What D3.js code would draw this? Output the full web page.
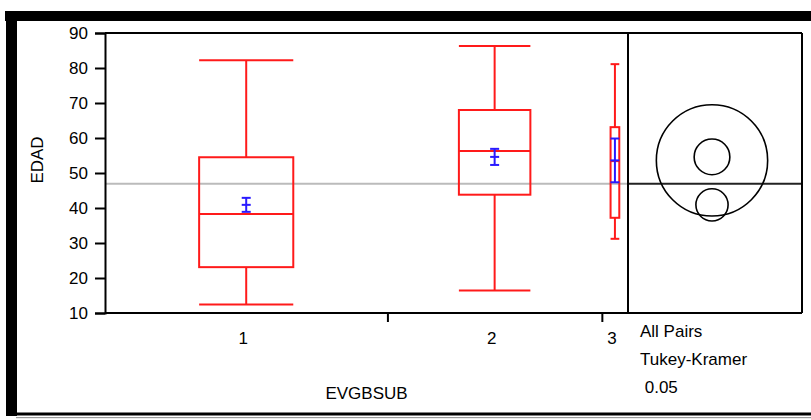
<!DOCTYPE html>
<html>
<head>
<meta charset="utf-8">
<script src="https://cdn.jsdelivr.net/npm/d3@7/dist/d3.min.js"></script>
<style>
  html, body { margin: 0; padding: 0; background: #fff; }
  svg { display: block; }
  text { font-family: "Liberation Sans", Arial, sans-serif; fill: #000; }
</style>
</head>
<body>
<svg id="chart" width="811" height="420"></svg>
<script>
// Groups of EVGBSUB with their sizes (box widths follow the counts)
const groups = ["1", "2", "3"];
const counts = [54, 41, 5];

// Five-number summaries of EDAD per group
const whiskerLow  = [12.4, 16.4, 31.2];
const quartile1   = [23.1, 43.8, 37.2];
const medians     = [38.3, 56.3, 53.4];
const quartile3   = [54.5, 68.0, 63.1];
const whiskerHigh = [82.2, 86.3, 81.1];

// Group means and standard errors
const means   = [40.9, 54.6, 53.6];
const stdErrs = [2.0, 2.3, 6.25];

// Tukey-Kramer comparison circle radii (EDAD units)
const circleRadii = [4.6, 5.1, 15.9];

const grandMean = 46.9;
const yTicks = [10, 20, 30, 40, 50, 60, 70, 80, 90];
const testLines = ["All Pairs", "Tukey-Kramer", " 0.05"];

const svg = d3.select("#chart");

const plot = { left: 105, right: 628, top: 33, bottom: 313 };
const panel = { left: 628, right: 802 };

const y = d3.scaleLinear().domain([10, 90]).range([plot.bottom, plot.top]);

const cum = [0];
counts.forEach((c, i) => cum.push(cum[i] + c));
const x = d3.scaleLinear().domain([0, cum[cum.length - 1]]).range([plot.left, plot.right]);

// Outer frame bands
svg.append("rect").attr("x", 5).attr("y", 11).attr("width", 806).attr("height", 10).attr("fill", "#000");
svg.append("rect").attr("x", 6).attr("y", 11).attr("width", 11).attr("height", 405).attr("fill", "#000");
svg.append("rect").attr("x", 16).attr("y", 412.5).attr("width", 795).attr("height", 3).attr("fill", "#000");
svg.append("rect").attr("x", 16).attr("y", 417).attr("width", 795).attr("height", 1.2).attr("fill", "#999");

// Grand mean reference line
svg.append("line")
  .attr("x1", plot.left).attr("x2", plot.right)
  .attr("y1", y(grandMean)).attr("y2", y(grandMean))
  .attr("stroke", "#bbb").attr("stroke-width", 2);
svg.append("line")
  .attr("x1", panel.left).attr("x2", panel.right)
  .attr("y1", y(grandMean)).attr("y2", y(grandMean))
  .attr("stroke", "#222").attr("stroke-width", 2);

// Box plots
const red = "#ff1a1a";
const boxes = svg.append("g").attr("fill", "none").attr("stroke", red).attr("stroke-width", 2);
groups.forEach((g, i) => {
  const x0 = x(cum[i]), x1 = x(cum[i + 1]);
  const w = (x1 - x0) / 3;
  const cx = (x0 + x1) / 2;
  const bl = cx - w / 2, br = cx + w / 2;
  // whiskers
  boxes.append("line").attr("x1", cx).attr("x2", cx).attr("y1", y(whiskerHigh[i])).attr("y2", y(quartile3[i]));
  boxes.append("line").attr("x1", cx).attr("x2", cx).attr("y1", y(quartile1[i])).attr("y2", y(whiskerLow[i]));
  boxes.append("line").attr("x1", bl).attr("x2", br).attr("y1", y(whiskerHigh[i])).attr("y2", y(whiskerHigh[i]));
  boxes.append("line").attr("x1", bl).attr("x2", br).attr("y1", y(whiskerLow[i])).attr("y2", y(whiskerLow[i]));
  // box
  boxes.append("rect").attr("x", bl).attr("y", y(quartile3[i]))
    .attr("width", w).attr("height", y(quartile1[i]) - y(quartile3[i]));
  // median
  boxes.append("line").attr("x1", bl).attr("x2", br).attr("y1", y(medians[i])).attr("y2", y(medians[i]));
});

// Mean ± standard error bars
const blue = "#2a1aff";
const errs = svg.append("g").attr("stroke", blue).attr("stroke-width", 2);
groups.forEach((g, i) => {
  const cx = (x(cum[i]) + x(cum[i + 1])) / 2;
  const hw = 4.5;
  const hi = means[i] + stdErrs[i], lo = means[i] - stdErrs[i];
  errs.append("line").attr("x1", cx).attr("x2", cx).attr("y1", y(hi)).attr("y2", y(lo));
  [hi, means[i], lo].forEach(v => {
    errs.append("line").attr("x1", cx - hw).attr("x2", cx + hw).attr("y1", y(v)).attr("y2", y(v));
  });
});

// Comparison circles
const ccx = (panel.left + panel.right) / 2 - 3;
const unit = y(0) - y(1);
svg.append("g").attr("fill", "none").attr("stroke", "#000").attr("stroke-width", 1.6)
  .selectAll("circle").data(means).join("circle")
  .attr("cx", ccx).attr("cy", d => y(d))
  .attr("r", (d, i) => circleRadii[i] * unit);

// Frame lines
const frame = svg.append("g").attr("stroke", "#000").attr("stroke-width", 2).attr("fill", "none");
frame.append("line").attr("x1", plot.left).attr("x2", panel.right).attr("y1", plot.top).attr("y2", plot.top);
frame.append("line").attr("x1", plot.right).attr("x2", plot.right).attr("y1", plot.top).attr("y2", plot.bottom);
frame.append("line").attr("x1", panel.right).attr("x2", panel.right).attr("y1", plot.top).attr("y2", plot.bottom);
frame.append("line").attr("x1", panel.left).attr("x2", panel.right).attr("y1", plot.bottom).attr("y2", plot.bottom);

// Y axis
const yAxis = svg.append("g").attr("transform", `translate(${plot.left},0)`)
  .call(d3.axisLeft(y).tickValues(yTicks).tickSize(10).tickPadding(7).tickFormat(d3.format("d")));
yAxis.select(".domain").attr("stroke", "#000").attr("stroke-width", 2);
yAxis.selectAll(".tick line").attr("stroke", "#000").attr("stroke-width", 2);
yAxis.selectAll("text").attr("font-size", 17).attr("font-family", "Liberation Sans, Arial, sans-serif").attr("fill", "#000");

// X axis: group boundaries as ticks, names centred in each band
const xAxis = svg.append("g").attr("transform", `translate(0,${plot.bottom})`)
  .call(d3.axisBottom(x).tickValues(cum.slice(1, -1)).tickSize(9).tickFormat(""));
xAxis.select(".domain").attr("stroke", "#000").attr("stroke-width", 2).attr("d", `M${plot.left},0H${plot.right}`);
xAxis.selectAll(".tick line").attr("stroke", "#000").attr("stroke-width", 2);

svg.append("g").selectAll("text").data(groups).join("text")
  .attr("x", (d, i) => (x(cum[i]) + x(cum[i + 1])) / 2 - 3)
  .attr("y", 344)
  .attr("text-anchor", "middle")
  .attr("font-size", 17)
  .text(d => d);

// Axis titles
svg.append("text")
  .attr("x", (plot.left + plot.right) / 2).attr("y", 399)
  .attr("text-anchor", "middle").attr("font-size", 17)
  .text("EVGBSUB");
svg.append("text")
  .attr("transform", `translate(43,160) rotate(-90)`)
  .attr("text-anchor", "middle").attr("font-size", 17)
  .text("EDAD");

// Comparison test legend
svg.append("g").selectAll("text").data(testLines).join("text")
  .attr("x", 640).attr("y", (d, i) => 337 + i * 28)
  .attr("font-size", 17)
  .attr("xml:space", "preserve")
  .style("white-space", "pre")
  .text(d => d);
</script>
</body>
</html>
